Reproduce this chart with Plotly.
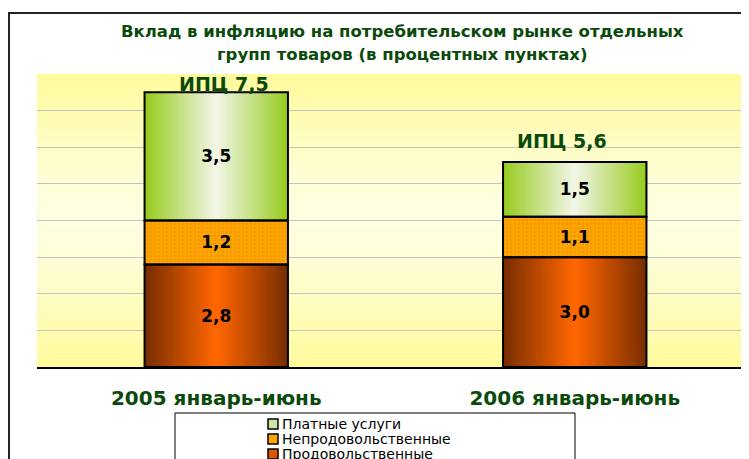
import plotly.graph_objects as go

# ---- data ----
categories = ["2005 январь-июнь", "2006 январь-июнь"]
food = [2.8, 3.0]          # Продовольственные
nonfood = [1.2, 1.1]       # Непродовольственные
services = [3.5, 1.5]      # Платные услуги
cpi = [7.5, 5.6]           # ИПЦ

legend_names = ["Платные услуги", "Непродовольственные", "Продовольственные"]

# page is rendered with an 8px body margin -> work in page pixels, convert
OFF = 8
W, H = 749, 459
L = 37 - OFF
T = 74 - OFF
B = H - (367 - OFF)
R_ = 0
PW = W - L - R_
PH = H - T - B

def px_x(px):
    return (px - OFF - L) / PW

def px_y(py):
    return (H - B - (py - OFF)) / PH

def fmt(v):
    return f"{v:.1f}".replace(".", ",")

def lerp(c1, c2, t):
    return "#%02x%02x%02x" % tuple(round(a + (b - a) * t) for a, b in zip(c1, c2))

BAR_W = 0.4
CAT_PX = 358.5
fig = go.Figure()

base_food = [0.0 for _ in food]
base_nonfood = [f for f in food]
base_serv = [f + n for f, n in zip(food, nonfood)]

N = 22
def gradient_bars(vals, bases, edge, center, name):
    for i in range(N):
        w = BAR_W * (1 - i / N)
        col = lerp(edge, center, i / (N - 1))
        fig.add_trace(go.Bar(x=categories, y=vals, base=bases, width=w, name=name,
                             marker=dict(color=col, line=dict(width=0)),
                             showlegend=False, hoverinfo="skip"))

gradient_bars(food, base_food, (0x7a, 0x2e, 0x00), (0xff, 0x66, 0x00), "Продовольственные")
fig.add_trace(go.Bar(x=categories, y=nonfood, base=base_nonfood, width=BAR_W,
                     name="Непродовольственные",
                     marker=dict(color="#ffa500",
                                 pattern=dict(shape=".", fgcolor="#e88a00", bgcolor="#ffa500",
                                              size=4, solidity=0.35),
                                 line=dict(width=0)),
                     showlegend=False, hoverinfo="skip"))
gradient_bars(services, base_serv, (0x99, 0xcc, 0x22), (0xf0, 0xf5, 0xe4), "Платные услуги")

# outlines + labels
for vals, bases in [(food, base_food), (nonfood, base_nonfood), (services, base_serv)]:
    fig.add_trace(go.Bar(x=categories, y=vals, base=bases, width=BAR_W,
                         marker=dict(color="rgba(0,0,0,0)", line=dict(color="black", width=2)),
                         text=[fmt(v) for v in vals], textposition="inside",
                         insidetextanchor="middle", constraintext="none",
                         textfont=dict(family="DejaVu Sans", size=17, color="black", weight="bold"),
                         showlegend=False, hoverinfo="skip"))

# background gradient bands (styling)
shapes = []
nb = 40
top = (0xff, 0xfb, 0x99)
mid = (0xfe, 0xfe, 0xe2)
for k in range(nb):
    y0 = k / nb
    y1 = (k + 1) / nb
    t = abs((y0 + y1) / 2 - 0.5) * 2
    col = lerp(mid, top, t ** 1.3)
    shapes.append(dict(type="rect", xref="paper", yref="paper", x0=0, x1=1, y0=y0, y1=y1,
                       fillcolor=col, line=dict(width=0), layer="below"))
# outer frame
shapes.append(dict(type="rect", xref="paper", yref="paper",
                   x0=px_x(9), x1=px_x(790), y0=px_y(490), y1=px_y(13),
                   line=dict(color="#222", width=2), fillcolor="rgba(0,0,0,0)"))
# legend box
shapes.append(dict(type="rect", xref="paper", yref="paper",
                   x0=px_x(175), x1=px_x(575), y0=px_y(490), y1=px_y(413),
                   line=dict(color="black", width=1), fillcolor="rgba(0,0,0,0)"))

legend_cols = ["#cfe6a6", "#ffa500", "#d85a00"]
green = "#0a4a0a"
annotations = [
    dict(text="Вклад в инфляцию на потребительском рынке отдельных", xref="paper", yref="paper",
         x=px_x(402.5), y=px_y(31), xanchor="center", yanchor="middle", showarrow=False,
         font=dict(family="DejaVu Sans", size=16.5, color=green, weight="bold")),
    dict(text="групп товаров (в процентных пунктах)", xref="paper", yref="paper",
         x=px_x(402.5), y=px_y(55), xanchor="center", yanchor="middle", showarrow=False,
         font=dict(family="DejaVu Sans", size=16.5, color=green, weight="bold")),
]
cpi_yshift = [8, 21]
cpi_xshift = [8, -13]
for i, c in enumerate(cpi):
    annotations.append(dict(text=f"ИПЦ {fmt(c)}", x=categories[i], y=c, xref="x", yref="y",
                            showarrow=False, yshift=cpi_yshift[i], xshift=cpi_xshift[i],
                            font=dict(family="DejaVu Sans", size=19, color=green, weight="bold")))

# manual legend (swatch + text)
for j, (nm, col) in enumerate(zip(legend_names, legend_cols)):
    cy = 424 + 15 * j
    shapes.append(dict(type="rect", xref="paper", yref="paper",
                       x0=px_x(268), x1=px_x(278), y0=px_y(cy + 5), y1=px_y(cy - 5),
                       fillcolor=col, line=dict(color="black", width=1.5)))
    annotations.append(dict(text=nm, xref="paper", yref="paper", x=px_x(280), y=px_y(cy),
                            xanchor="left", yanchor="middle", showarrow=False,
                            font=dict(family="DejaVu Sans", size=14, color="black")))

fig.update_layout(
    width=W, height=H,
    margin=dict(l=L, r=R_, t=T, b=B, pad=0, autoexpand=False),
    barmode="overlay",
    paper_bgcolor="white",
    plot_bgcolor="rgba(0,0,0,0)",
    shapes=shapes,
    annotations=annotations,
    showlegend=False,
    xaxis=dict(type="category", range=[-0.5, -0.5 + PW / CAT_PX], showgrid=False,
               showline=True, linecolor="black", linewidth=2,
               tickfont=dict(family="DejaVu Sans", size=20, color=green, weight="bold"),
               ticks="", ticklabelstandoff=12, fixedrange=True),
    yaxis=dict(range=[0, 8], dtick=1, showgrid=True, gridcolor="#c4c4c4", gridwidth=1,
               showticklabels=False, zeroline=False, showline=False, fixedrange=True),
)

fig.write_html("out.html")
